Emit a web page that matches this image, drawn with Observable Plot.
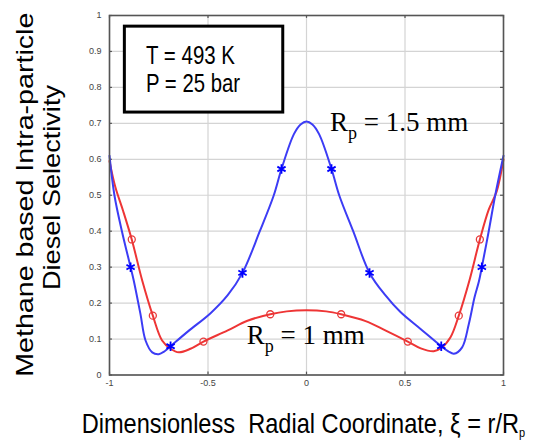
<!DOCTYPE html>
<html><head><meta charset="utf-8">
<script src="https://cdn.jsdelivr.net/npm/d3@7"></script>
<script src="https://cdn.jsdelivr.net/npm/@observablehq/plot@0.6"></script>
<style>
html,body{margin:0;padding:0;background:#fff;}
text{white-space:pre;}
</style>
</head><body><div id="chart"></div>
<script>
// ---- data ----
const xTicks = [-1, -0.5, 0, 0.5, 1];
const yTicks = [0, 0.1, 0.2, 0.3, 0.4, 0.5, 0.6, 0.7, 0.8, 0.9, 1];

// R_p = 1.5 mm (blue)
const blueX = [-1, -0.975, -0.937, -0.893, -0.877, -0.843, -0.817, -0.783, -0.75, -0.72, -0.69, -0.6, -0.487, -0.4, -0.325, -0.237, -0.166, -0.127, -0.064, -0.03, 0,
               0.03, 0.064, 0.127, 0.166, 0.237, 0.32, 0.4, 0.477, 0.579, 0.684, 0.72, 0.748, 0.79, 0.824, 0.853, 0.875, 0.89, 0.925, 0.958, 1];
const blueY = [0.61, 0.50, 0.40, 0.30, 0.263, 0.17, 0.096, 0.063, 0.058, 0.066, 0.08, 0.122, 0.172, 0.222, 0.284, 0.40, 0.50, 0.573, 0.67, 0.697, 0.705,
               0.697, 0.67, 0.573, 0.50, 0.40, 0.284, 0.222, 0.175, 0.128, 0.08, 0.066, 0.059, 0.077, 0.142, 0.216, 0.26, 0.30, 0.40, 0.50, 0.61];
const blueMarkX = [-0.893, -0.69, -0.325, -0.127, 0.127, 0.32, 0.684, 0.89];
const blueMarkY = [0.30, 0.08, 0.284, 0.573, 0.573, 0.284, 0.08, 0.30];

// R_p = 1 mm (red)
const redX = [-1, -0.97, -0.93, -0.887, -0.834, -0.78, -0.733, -0.69, -0.648, -0.589, -0.523, -0.4, -0.3, -0.184, -0.1, 0,
              0.1, 0.176, 0.3, 0.4, 0.514, 0.58, 0.646, 0.684, 0.731, 0.773, 0.827, 0.88, 0.925, 0.965, 1];
const redY = [0.595, 0.522, 0.455, 0.377, 0.263, 0.165, 0.096, 0.073, 0.063, 0.073, 0.093, 0.124, 0.151, 0.169, 0.177, 0.18,
              0.177, 0.169, 0.15, 0.124, 0.093, 0.074, 0.066, 0.075, 0.105, 0.165, 0.263, 0.377, 0.46, 0.51, 0.6];
const redMarkX = [-0.887, -0.78, -0.523, -0.184, 0.176, 0.514, 0.773, 0.88];
const redMarkY = [0.377, 0.165, 0.093, 0.169, 0.169, 0.093, 0.165, 0.377];

const conditions = ["T = 493 K", "P = 25 bar"];
const seriesLabels = [{name: "1.5 mm", x: 0.122, y: 0.677}, {name: "1 mm", x: -0.301, y: 0.084}];

// ---- tables ----
const blue = blueX.map((x, i) => ({x, y: blueY[i]}));
const red = redX.map((x, i) => ({x, y: redY[i]}));
const blueMarks = blueMarkX.map((x, i) => ({x, y: blueMarkY[i]}));
const redMarks = redMarkX.map((x, i) => ({x, y: redMarkY[i]}));

const svg = Plot.plot({
  width: 533, height: 442,
  marginLeft: 109, marginRight: 30, marginTop: 15, marginBottom: 67.5,
  x: {domain: [-1, 1], label: null},
  y: {domain: [0, 1], label: null},
  style: {fontFamily: "Liberation Sans, Arial, sans-serif", fontSize: "9px", color: "#444", background: "#fff"},
  marks: [
    Plot.gridX(xTicks, {stroke: "#d4d4d4", strokeOpacity: 1, strokeWidth: 1.2}),
    Plot.gridY(yTicks, {stroke: "#d4d4d4", strokeOpacity: 1, strokeWidth: 1.2}),
    Plot.ruleY(yTicks, {x1: -1, x2: -0.985, stroke: "#555", strokeWidth: 1.2}),
    Plot.ruleY(yTicks, {x1: 0.985, x2: 1, stroke: "#555", strokeWidth: 1.2}),
    Plot.ruleX(xTicks, {y1: 0, y2: 0.008, stroke: "#555", strokeWidth: 1.2}),
    Plot.ruleX(xTicks, {y1: 0.992, y2: 1, stroke: "#555", strokeWidth: 1.2}),
    Plot.axisX(xTicks, {tickSize: 0, tickPadding: 5, tickFormat: d => String(d), fill: "#444"}),
    Plot.axisY(yTicks, {tickSize: 0, tickPadding: 8, tickFormat: d => String(d), fill: "#444"}),
    Plot.rect([0], {x1: -0.922, x2: -0.118, y1: 0.73, y2: 0.969, fill: "#fff", stroke: "#000", strokeWidth: 3}),
    Plot.line(red, {x: "x", y: "y", curve: "catmull-rom", stroke: "#ee3535", strokeWidth: 2}),
    Plot.line(blue, {x: "x", y: "y", curve: "catmull-rom", stroke: "#3c3cf5", strokeWidth: 2}),
    Plot.dot(redMarks, {x: "x", y: "y", r: 3.5, stroke: "#e83a3a", fill: "none", strokeWidth: 1.3}),
    Plot.dot(blueMarks, {x: "x", y: "y", symbol: "asterisk", r: 4.5, stroke: "#0000ff", strokeWidth: 1.8}),
    Plot.frame({stroke: "#555", strokeWidth: 1.6})
  ]
});
document.getElementById("chart").append(svg);

const X = svg.scale("x").apply, Y = svg.scale("y").apply;
const s = d3.select(svg);
const sans = "Liberation Sans, Arial, sans-serif";

// condition box text
conditions.forEach((t, i) => {
  s.append("text")
    .attr("x", X(-0.812)).attr("y", Y(i === 0 ? 0.865 : 0.786))
    .attr("text-anchor", "start")
    .attr("font-family", sans)
    .attr("font-size", 25.5).attr("fill", "#000")
    .attr("textLength", i === 0 ? 89 : 94).attr("lengthAdjust", "spacingAndGlyphs")
    .text(t);
});

// series labels
seriesLabels.forEach(d => {
  const t = s.append("text")
    .attr("x", X(d.x)).attr("y", Y(d.y))
    .attr("text-anchor", "start")
    .attr("font-family", "Liberation Serif, Times New Roman, serif")
    .attr("font-size", 27).attr("fill", "#000");
  t.append("tspan").text("R");
  t.append("tspan").attr("dy", 8).attr("font-size", 18).text("p");
  t.append("tspan").attr("dy", -8).text(" = " + d.name);
});

// y axis title (two lines, rotated)
s.append("text")
  .attr("transform", "translate(33,194.7) rotate(-90)")
  .attr("text-anchor", "middle")
  .attr("font-family", sans)
  .attr("font-size", 24).attr("fill", "#000")
  .attr("textLength", 364).attr("lengthAdjust", "spacingAndGlyphs")
  .text("Methane based Intra-particle");
s.append("text")
  .attr("transform", "translate(60,290) rotate(-90)")
  .attr("text-anchor", "start")
  .attr("font-family", sans)
  .attr("font-size", 24).attr("fill", "#000")
  .attr("textLength", 205).attr("lengthAdjust", "spacingAndGlyphs")
  .text("Diesel Selectivity");

// x axis title (vertically stretched like the reference, subscript as tspan)
const xt = s.append("text")
  .attr("transform", "translate(81.7,432.5) scale(1,1.18)")
  .attr("text-anchor", "start")
  .attr("font-family", sans)
  .attr("font-size", 23.6).attr("fill", "#000");
xt.append("tspan").text("Dimensionless  Radial Coordinate, \u03be = r/R");
xt.append("tspan").attr("dy", 3.5).attr("font-size", 11).text("p");
</script></body></html>
